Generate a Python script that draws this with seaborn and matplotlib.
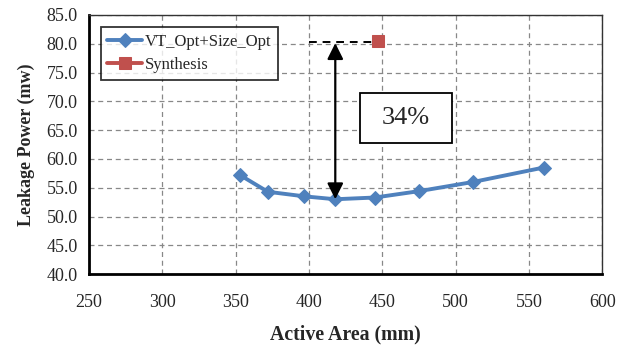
import pandas as pd
import numpy as np
import matplotlib
matplotlib.use("Agg")
import matplotlib.pyplot as plt
from matplotlib.patches import Rectangle
import seaborn as sns

# values
area = [353, 372, 397, 418, 445, 475, 512, 560]
leakage = [57.2, 54.3, 53.5, 53.0, 53.3, 54.4, 56.0, 58.5]
synth_area = [447]
synth_leakage = [80.5]
xticks = [250, 300, 350, 400, 450, 500, 550, 600]
yticks = [40, 45, 50, 55, 60, 65, 70, 75, 80, 85]

sns.set_style("white")
plt.rcParams['font.family'] = ['Liberation Serif', 'DejaVu Serif']

df = pd.DataFrame({"area": area, "leakage": leakage})
dfs = pd.DataFrame({"area": synth_area, "leakage": synth_leakage})

f = plt.figure(figsize=(6.26, 3.47), dpi=100)
ax = f.add_axes([0.142, 0.21, 0.82, 0.747])

sns.lineplot(x="area", y="leakage", data=df, ax=ax, color="#4F81BD", linewidth=2.8,
             marker="D", markersize=7.5, markeredgecolor="#4F81BD", label="VT_Opt+Size_Opt")
sns.lineplot(x="area", y="leakage", data=dfs, ax=ax, color="#C0504D", linewidth=2.8,
             marker="s", markersize=8.5, markeredgecolor="#C0504D", label="Synthesis")

# annotation: dashed reference line, double arrow and the 34% box
ax.plot([400, synth_area[0]], [synth_leakage[0] - 0.2] * 2, color="black", ls=(0, (4, 3)), lw=1.4, zorder=1)
ax.annotate("", xy=(418, synth_leakage[0] - 0.4), xytext=(418, leakage[3]),
            arrowprops=dict(arrowstyle="<|-|>", color="black", lw=1.6, mutation_scale=24,
                            shrinkA=0, shrinkB=0))
ax.add_patch(Rectangle((435, 62.8), 62.6, 8.65, fc="white", ec="black", lw=1.3, zorder=3))
ax.text(466.3, 67.1, "34%", fontsize=19, ha="center", va="center", zorder=4)

ax.set_xlim(250, 600)
ax.set_ylim(40, 85)
ax.set_xticks(xticks)
ax.set_yticks(yticks)
ax.set_yticklabels([f"{v:.1f}" for v in yticks])
ax.tick_params(labelsize=13, direction="out", length=5, color="black", width=1.2)
ax.tick_params(axis="x", pad=9)
ax.tick_params(axis="y", pad=3)
ax.grid(True, ls=(0, (4, 3)), color="#888888", lw=0.9)
for s in ["left", "bottom"]:
    ax.spines[s].set_color("black")
    ax.spines[s].set_linewidth(2)
for s in ["top", "right"]:
    ax.spines[s].set_color("#333333")
    ax.spines[s].set_linewidth(1)

ax.set_xlabel("Active Area (mm)", fontsize=14.3, fontweight="bold", labelpad=10)
ax.set_ylabel("Leakage Power (mw)", fontsize=13, fontweight="bold", labelpad=8)

leg = ax.legend(loc="upper left", bbox_to_anchor=(0.023, 0.953), fontsize=12, frameon=True,
                fancybox=False, edgecolor="black", borderpad=0.4, handlelength=2.1,
                labelspacing=0.45, handletextpad=0.15, borderaxespad=0)
leg.get_frame().set_linewidth(1.3)

plt.savefig("out.png", dpi=100)
